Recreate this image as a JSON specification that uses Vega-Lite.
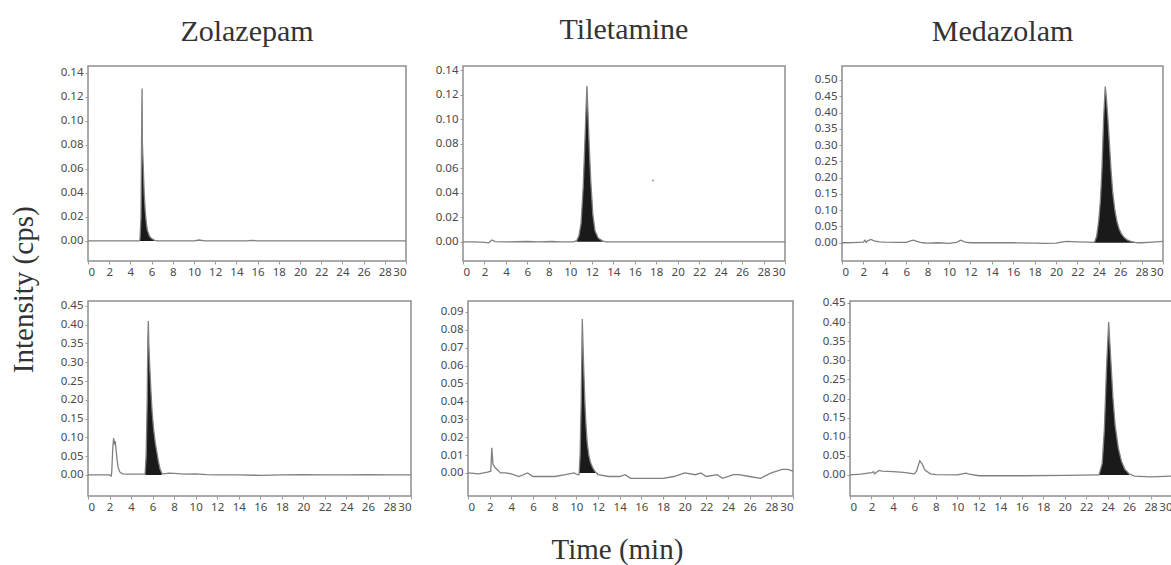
{
  "$schema": "https://vega.github.io/schema/vega-lite/v6.json",
  "padding": {"left": 10, "top": 14, "right": 2, "bottom": 0},
  "background": "white",
  "config": {
    "view": {"stroke": "#8f8f8f", "strokeWidth": 1.5},
    "axis": {"domain": false, "grid": false, "tickColor": "#9a9a9a", "tickSize": 3, "labelFont": "Noto Sans", "labelFontSize": 11.5, "labelColor": "#4a4a4a", "labelPadding": 2, "title": null},
    "title": {"font": "Liberation Serif", "fontSize": 30, "fontWeight": "normal", "color": "#333333"},
    "concat": {"spacing": 24}
  },
  "title": {"text": "Intensity (cps)", "orient": "left", "anchor": "middle", "font": "Liberation Serif", "fontSize": 29, "fontWeight": "normal", "color": "#333333", "offset": 20},
  "datasets": {
    "z1": [
      {"t": 0, "v": 0}, {"t": 2, "v": 0}, {"t": 4, "v": 0}, {"t": 4.8, "v": 0}, {"t": 4.9, "v": 0.001},
      {"t": 5.0, "v": 0.02}, {"t": 5.05, "v": 0.08}, {"t": 5.1, "v": 0.127}, {"t": 5.13, "v": 0.082},
      {"t": 5.2, "v": 0.065}, {"t": 5.3, "v": 0.04}, {"t": 5.4, "v": 0.025}, {"t": 5.5, "v": 0.015},
      {"t": 5.6, "v": 0.009}, {"t": 5.8, "v": 0.004}, {"t": 6.0, "v": 0.002}, {"t": 6.3, "v": 0.0005},
      {"t": 6.6, "v": 0}, {"t": 8, "v": 0}, {"t": 10, "v": 0}, {"t": 10.5, "v": 0.0008}, {"t": 11, "v": 0},
      {"t": 15, "v": 0}, {"t": 15.5, "v": 0.0005}, {"t": 16, "v": 0}, {"t": 20, "v": 0}, {"t": 25, "v": 0}, {"t": 30, "v": 0}
    ],
    "z2": [
      {"t": 0, "v": 0}, {"t": 1, "v": 0}, {"t": 2, "v": -0.0005}, {"t": 2.4, "v": -0.0008}, {"t": 2.7, "v": 0.0015},
      {"t": 3.0, "v": 0.0002}, {"t": 4, "v": 0}, {"t": 6, "v": 0.0003}, {"t": 7, "v": 0}, {"t": 8.3, "v": 0.0003},
      {"t": 9, "v": 0}, {"t": 10.3, "v": 0}, {"t": 10.6, "v": 0.001}, {"t": 10.8, "v": 0.005}, {"t": 11.0, "v": 0.015},
      {"t": 11.2, "v": 0.045}, {"t": 11.35, "v": 0.08}, {"t": 11.5, "v": 0.117}, {"t": 11.55, "v": 0.127},
      {"t": 11.6, "v": 0.115}, {"t": 11.75, "v": 0.08}, {"t": 11.9, "v": 0.05}, {"t": 12.1, "v": 0.022},
      {"t": 12.3, "v": 0.009}, {"t": 12.6, "v": 0.003}, {"t": 13.0, "v": 0.0008}, {"t": 13.3, "v": 0},
      {"t": 16, "v": 0}, {"t": 20, "v": 0}, {"t": 25, "v": 0}, {"t": 30, "v": 0}
    ],
    "z3": [
      {"t": 0, "v": 0}, {"t": 1, "v": 0.0005}, {"t": 2, "v": 0.002}, {"t": 2.15, "v": 0.008}, {"t": 2.25, "v": 0.001},
      {"t": 2.4, "v": 0.006}, {"t": 2.7, "v": 0.01}, {"t": 3.0, "v": 0.006}, {"t": 3.5, "v": 0.003}, {"t": 4, "v": 0.002},
      {"t": 5, "v": 0.001}, {"t": 6, "v": 0.001}, {"t": 6.4, "v": 0.006}, {"t": 6.7, "v": 0.008}, {"t": 7.0, "v": 0.004},
      {"t": 7.5, "v": 0}, {"t": 8, "v": -0.001}, {"t": 9, "v": 0}, {"t": 10, "v": -0.002}, {"t": 10.7, "v": 0.001},
      {"t": 11.1, "v": 0.008}, {"t": 11.5, "v": 0.002}, {"t": 12, "v": 0}, {"t": 14, "v": 0}, {"t": 16, "v": 0},
      {"t": 18, "v": -0.001}, {"t": 19, "v": -0.002}, {"t": 20, "v": -0.001}, {"t": 20.5, "v": 0.002}, {"t": 21, "v": 0.004},
      {"t": 22, "v": 0.003}, {"t": 23, "v": 0.002}, {"t": 23.5, "v": 0.001}, {"t": 23.6, "v": 0.002}, {"t": 23.8, "v": 0.02},
      {"t": 24.0, "v": 0.07}, {"t": 24.15, "v": 0.13}, {"t": 24.3, "v": 0.23}, {"t": 24.45, "v": 0.38}, {"t": 24.6, "v": 0.48},
      {"t": 24.7, "v": 0.45}, {"t": 24.85, "v": 0.38}, {"t": 25.0, "v": 0.3}, {"t": 25.15, "v": 0.22}, {"t": 25.3, "v": 0.155},
      {"t": 25.5, "v": 0.1}, {"t": 25.7, "v": 0.065}, {"t": 25.9, "v": 0.042}, {"t": 26.1, "v": 0.028}, {"t": 26.4, "v": 0.015},
      {"t": 26.7, "v": 0.008}, {"t": 27.0, "v": 0.004}, {"t": 27.4, "v": 0.001}, {"t": 27.6, "v": 0}, {"t": 28, "v": 0},
      {"t": 29, "v": 0.002}, {"t": 30, "v": 0.004}
    ],
    "z4": [
      {"t": 0, "v": 0}, {"t": 1, "v": 0}, {"t": 2.0, "v": 0}, {"t": 2.15, "v": -0.003}, {"t": 2.2, "v": 0.005},
      {"t": 2.3, "v": 0.07}, {"t": 2.38, "v": 0.098}, {"t": 2.45, "v": 0.085}, {"t": 2.52, "v": 0.09}, {"t": 2.6, "v": 0.07},
      {"t": 2.7, "v": 0.04}, {"t": 2.8, "v": 0.02}, {"t": 2.95, "v": 0.008}, {"t": 3.2, "v": 0.003}, {"t": 3.6, "v": 0.002},
      {"t": 4, "v": 0.002}, {"t": 4.5, "v": 0.002}, {"t": 5.0, "v": 0.002}, {"t": 5.3, "v": 0.003}, {"t": 5.4, "v": 0.05},
      {"t": 5.5, "v": 0.2}, {"t": 5.55, "v": 0.35}, {"t": 5.6, "v": 0.41}, {"t": 5.65, "v": 0.35}, {"t": 5.75, "v": 0.28},
      {"t": 5.85, "v": 0.22}, {"t": 5.95, "v": 0.17}, {"t": 6.1, "v": 0.12}, {"t": 6.25, "v": 0.085}, {"t": 6.4, "v": 0.06},
      {"t": 6.55, "v": 0.035}, {"t": 6.7, "v": 0.015}, {"t": 6.85, "v": 0.005}, {"t": 7, "v": 0.003}, {"t": 7.5, "v": 0.005},
      {"t": 8, "v": 0.004}, {"t": 9, "v": 0.002}, {"t": 10, "v": 0.003}, {"t": 11, "v": 0.001}, {"t": 12, "v": 0},
      {"t": 14, "v": 0}, {"t": 16, "v": -0.001}, {"t": 18, "v": 0}, {"t": 20, "v": 0.001}, {"t": 22, "v": 0},
      {"t": 24, "v": 0}, {"t": 26, "v": 0.001}, {"t": 28, "v": 0}, {"t": 30, "v": 0}
    ],
    "z5": [
      {"t": 0, "v": 0}, {"t": 1, "v": -0.0005}, {"t": 1.8, "v": 0.0005}, {"t": 2.1, "v": 0.001}, {"t": 2.2, "v": 0.014},
      {"t": 2.3, "v": 0.005}, {"t": 2.5, "v": 0.003}, {"t": 3, "v": 0}, {"t": 3.5, "v": 0}, {"t": 4, "v": -0.0005},
      {"t": 4.7, "v": -0.002}, {"t": 5.5, "v": 0}, {"t": 6, "v": -0.002}, {"t": 8, "v": -0.002}, {"t": 9, "v": -0.001},
      {"t": 9.8, "v": 0}, {"t": 10.1, "v": -0.001}, {"t": 10.25, "v": -0.001}, {"t": 10.35, "v": 0.01}, {"t": 10.45, "v": 0.04},
      {"t": 10.52, "v": 0.074}, {"t": 10.55, "v": 0.086}, {"t": 10.6, "v": 0.075}, {"t": 10.7, "v": 0.055}, {"t": 10.8, "v": 0.038},
      {"t": 10.9, "v": 0.026}, {"t": 11.0, "v": 0.017}, {"t": 11.15, "v": 0.01}, {"t": 11.3, "v": 0.006}, {"t": 11.5, "v": 0.003},
      {"t": 11.7, "v": 0.001}, {"t": 12.0, "v": -0.001}, {"t": 13, "v": -0.002}, {"t": 14, "v": -0.002}, {"t": 14.5, "v": -0.001},
      {"t": 15, "v": -0.003}, {"t": 16, "v": -0.003}, {"t": 18, "v": -0.003}, {"t": 19, "v": -0.002}, {"t": 20, "v": 0},
      {"t": 21, "v": -0.001}, {"t": 21.5, "v": 0}, {"t": 22, "v": -0.002}, {"t": 23, "v": -0.001}, {"t": 23.5, "v": -0.003},
      {"t": 24.5, "v": -0.001}, {"t": 25, "v": -0.001}, {"t": 26, "v": -0.002}, {"t": 27, "v": -0.003}, {"t": 28, "v": 0},
      {"t": 29, "v": 0.002}, {"t": 29.5, "v": 0.002}, {"t": 30, "v": 0.001}
    ],
    "z6": [
      {"t": 0, "v": 0}, {"t": 1, "v": 0.002}, {"t": 2, "v": 0.006}, {"t": 2.2, "v": 0.008}, {"t": 2.3, "v": 0.003},
      {"t": 2.5, "v": 0.008}, {"t": 2.7, "v": 0.012}, {"t": 3, "v": 0.01}, {"t": 4, "v": 0.009}, {"t": 5, "v": 0.007},
      {"t": 6, "v": 0.003}, {"t": 6.2, "v": 0.01}, {"t": 6.5, "v": 0.037}, {"t": 6.7, "v": 0.03}, {"t": 7, "v": 0.012},
      {"t": 7.5, "v": 0.003}, {"t": 8, "v": 0.001}, {"t": 10, "v": 0}, {"t": 10.8, "v": 0.005}, {"t": 11.1, "v": 0.002},
      {"t": 12, "v": -0.002}, {"t": 16, "v": -0.002}, {"t": 20, "v": -0.001}, {"t": 23, "v": 0}, {"t": 23.2, "v": 0},
      {"t": 23.5, "v": 0.03}, {"t": 23.7, "v": 0.12}, {"t": 23.9, "v": 0.28}, {"t": 24.1, "v": 0.4}, {"t": 24.3, "v": 0.3},
      {"t": 24.5, "v": 0.2}, {"t": 24.7, "v": 0.13}, {"t": 25.0, "v": 0.07}, {"t": 25.3, "v": 0.035}, {"t": 25.6, "v": 0.015},
      {"t": 26, "v": 0.003}, {"t": 26.5, "v": -0.003}, {"t": 28, "v": -0.005}, {"t": 30, "v": -0.003}
    ],
    "speck": [{"t": 17.7, "v": 0.05}]
  },
  "vconcat": [
    {
      "hconcat": [
        {
          "width": 318, "height": 195,
          "title": {"text": "Zolazepam", "offset": 19},
          "data": {"name": "z1"},
          "encoding": {
            "x": {"field": "t", "type": "quantitative", "scale": {"domain": [0, 30], "nice": false}, "axis": {"values": [0,2,4,6,8,10,12,14,16,18,20,22,24,26,28,30]}},
            "y": {"field": "v", "type": "quantitative", "scale": {"domain": [-0.0167, 0.1458], "nice": false, "zero": false}, "axis": {"values": [0,0.02,0.04,0.06,0.08,0.1,0.12,0.14], "format": ".2f"}}
          },
          "layer": [
            {"transform": [{"filter": "datum.t >= 4.85 && datum.t <= 6.6"}], "mark": {"type": "area", "color": "#1a1a1a"}},
            {"mark": {"type": "line", "color": "#808080", "strokeWidth": 1.3}}
          ]
        },
        {
          "width": 322, "height": 195,
          "title": {"text": "Tiletamine", "offset": 19},
          "data": {"name": "z2"},
          "encoding": {
            "x": {"field": "t", "type": "quantitative", "scale": {"domain": [0, 30], "nice": false}, "axis": {"values": [0,2,4,6,8,10,12,14,16,18,20,22,24,26,28,30]}},
            "y": {"field": "v", "type": "quantitative", "scale": {"domain": [-0.0156, 0.1433], "nice": false, "zero": false}, "axis": {"values": [0,0.02,0.04,0.06,0.08,0.1,0.12,0.14], "format": ".2f"}}
          },
          "layer": [
            {"transform": [{"filter": "datum.t >= 10.5 && datum.t <= 13.1"}], "mark": {"type": "area", "color": "#1a1a1a"}},
            {"mark": {"type": "line", "color": "#808080", "strokeWidth": 1.3}},
            {"data": {"name": "speck"}, "mark": {"type": "point", "filled": true, "color": "#777777", "size": 5}}
          ]
        },
        {
          "width": 321, "height": 195,
          "title": {"text": "Medazolam", "offset": 19},
          "data": {"name": "z3"},
          "encoding": {
            "x": {"field": "t", "type": "quantitative", "scale": {"domain": [0, 30], "nice": false}, "axis": {"values": [0,2,4,6,8,10,12,14,16,18,20,22,24,26,28,30]}},
            "y": {"field": "v", "type": "quantitative", "scale": {"domain": [-0.056, 0.543], "nice": false, "zero": false}, "axis": {"values": [0,0.05,0.1,0.15,0.2,0.25,0.3,0.35,0.4,0.45,0.5], "format": ".2f"}}
          },
          "layer": [
            {"transform": [{"filter": "datum.t >= 23.5 && datum.t <= 27.6"}], "mark": {"type": "area", "color": "#1a1a1a"}},
            {"mark": {"type": "line", "color": "#808080", "strokeWidth": 1.3}}
          ]
        }
      ]
    },
    {
      "title": {"text": "Time (min)", "orient": "bottom", "anchor": "middle", "font": "Liberation Serif", "fontSize": 29, "fontWeight": "normal", "color": "#333333", "offset": 23},
      "hconcat": [
        {
          "width": 323, "height": 195,
          "data": {"name": "z4"},
          "encoding": {
            "x": {"field": "t", "type": "quantitative", "scale": {"domain": [0, 30], "nice": false}, "axis": {"values": [0,2,4,6,8,10,12,14,16,18,20,22,24,26,28,30]}},
            "y": {"field": "v", "type": "quantitative", "scale": {"domain": [-0.056, 0.463], "nice": false, "zero": false}, "axis": {"values": [0,0.05,0.1,0.15,0.2,0.25,0.3,0.35,0.4,0.45], "format": ".2f"}}
          },
          "layer": [
            {"transform": [{"filter": "datum.t >= 5.3 && datum.t <= 6.9"}], "mark": {"type": "area", "color": "#1a1a1a"}},
            {"mark": {"type": "line", "color": "#808080", "strokeWidth": 1.3}}
          ]
        },
        {
          "width": 325, "height": 195,
          "data": {"name": "z5"},
          "encoding": {
            "x": {"field": "t", "type": "quantitative", "scale": {"domain": [0, 30], "nice": false}, "axis": {"values": [0,2,4,6,8,10,12,14,16,18,20,22,24,26,28,30]}},
            "y": {"field": "v", "type": "quantitative", "scale": {"domain": [-0.0129, 0.0961], "nice": false, "zero": false}, "axis": {"values": [0,0.01,0.02,0.03,0.04,0.05,0.06,0.07,0.08,0.09], "format": ".2f"}}
          },
          "layer": [
            {"transform": [{"filter": "datum.t >= 10.25 && datum.t <= 12.0"}], "mark": {"type": "area", "color": "#1a1a1a"}},
            {"mark": {"type": "line", "color": "#808080", "strokeWidth": 1.3}}
          ]
        },
        {
          "width": 322, "height": 195,
          "data": {"name": "z6"},
          "encoding": {
            "x": {"field": "t", "type": "quantitative", "scale": {"domain": [0, 30], "nice": false}, "axis": {"values": [0,2,4,6,8,10,12,14,16,18,20,22,24,26,28,30]}},
            "y": {"field": "v", "type": "quantitative", "scale": {"domain": [-0.055, 0.455], "nice": false, "zero": false}, "axis": {"values": [0,0.05,0.1,0.15,0.2,0.25,0.3,0.35,0.4,0.45], "format": ".2f"}}
          },
          "layer": [
            {"transform": [{"filter": "datum.t >= 23.2 && datum.t <= 26.2"}], "mark": {"type": "area", "color": "#1a1a1a"}},
            {"mark": {"type": "line", "color": "#808080", "strokeWidth": 1.3}}
          ]
        }
      ]
    }
  ],
  "spacing": 17
}
